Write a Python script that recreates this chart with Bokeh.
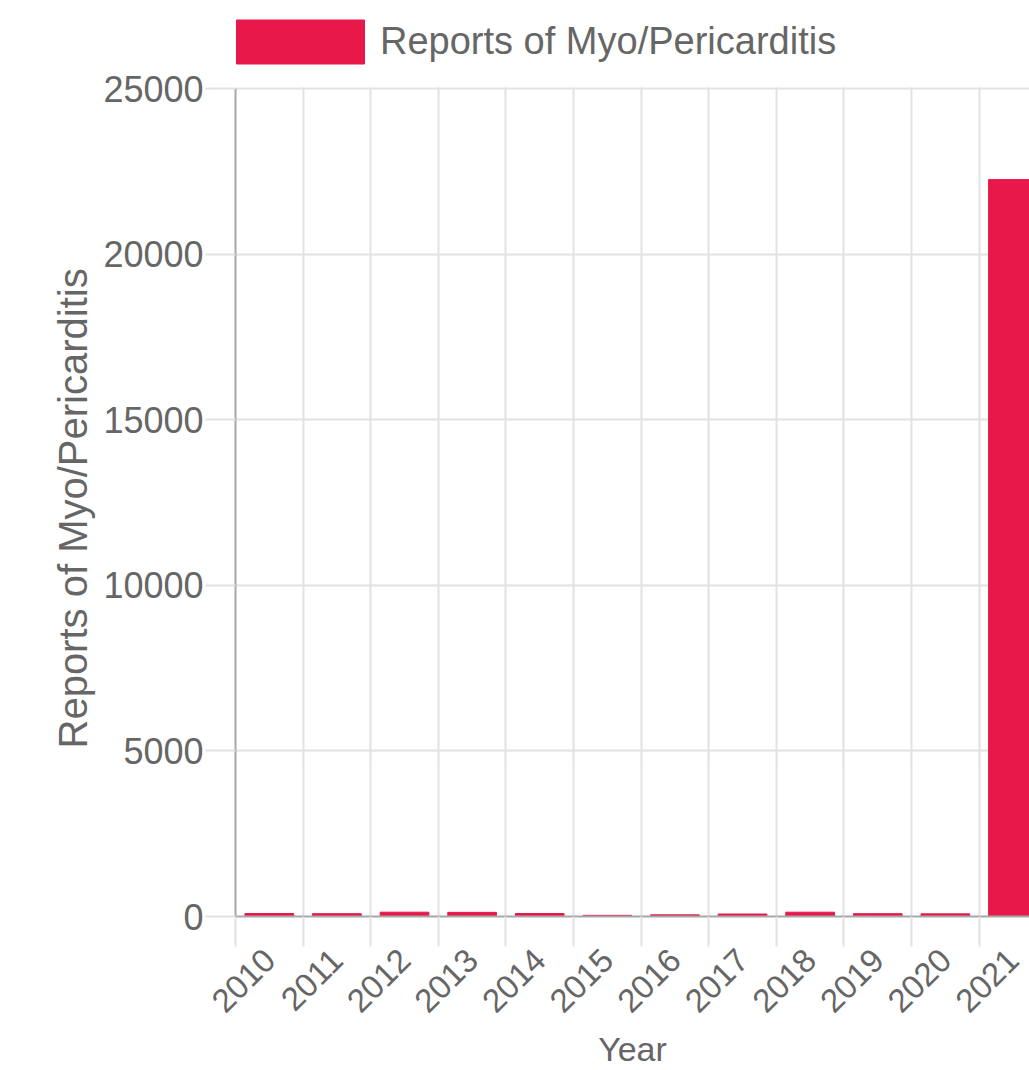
from bokeh.plotting import figure
from bokeh.models import (Range1d, FixedTicker, Legend, LegendItem, ColumnDataSource,
                          BoxAnnotation, Title)
from bokeh.embed import file_html
from bokeh.resources import INLINE
import math

years = ["2010", "2011", "2012", "2013", "2014", "2015", "2016",
         "2017", "2018", "2019", "2020", "2021"]
reports = [90, 85, 130, 125, 90, 35, 50, 75, 130, 85, 80, 22250]
y_ticks = [0, 5000, 10000, 15000, 20000, 25000]
series_name = "Reports of Myo/Pericarditis"

BAR = "#e8184a"
TXT = "#666666"
GRID = "#e2e2e2"
AXIS = "#a8a8a8"
FONT = "Liberation Sans"

idx = list(range(len(years)))
src = ColumnDataSource(dict(x=idx, y=reports))

y_max = y_ticks[-1]
# extra head room above the axis top holds the legend (88px of 916px)
y_end = y_max * 916 / 828

p = figure(width=1029, height=1070, output_backend="svg", toolbar_location=None,
           x_range=Range1d(-0.5, 11.245), y_range=Range1d(0, y_end),
           min_border_left=235, min_border_right=0, min_border_top=0,
           min_border_bottom=154)
p.outline_line_color = None
p.background_fill_color = "white"

r = p.vbar(x="x", top="y", width=0.72, bottom=0, source=src,
           fill_color=BAR, line_color=BAR)

# x axis
p.xaxis.ticker = FixedTicker(ticks=idx, minor_ticks=[i - 0.5 for i in range(len(years) + 1)])
p.xaxis.major_label_overrides = {i: y for i, y in zip(idx, years)}
p.xaxis.major_label_orientation = math.pi / 4
p.xaxis.major_tick_line_color = None
p.xaxis.minor_tick_in = 0
p.xaxis.minor_tick_out = 30
p.xaxis.minor_tick_line_color = GRID
p.xaxis.minor_tick_line_width = 2
p.xaxis.axis_line_color = AXIS
p.xaxis.axis_line_width = 2
p.xaxis.major_label_text_font = FONT
p.xaxis.major_label_text_font_size = "33px"
p.xaxis.major_label_text_color = TXT
p.xaxis.major_label_standoff = 8
p.xaxis.axis_label = "Year"
p.xaxis.axis_label_text_font = FONT
p.xaxis.axis_label_text_font_size = "34px"
p.xaxis.axis_label_text_font_style = "normal"
p.xaxis.axis_label_text_color = TXT
p.xaxis.axis_label_standoff = 4

# y axis
p.yaxis.ticker = FixedTicker(ticks=y_ticks)
p.yaxis.bounds = (0, y_max)
p.yaxis.minor_tick_line_color = None
p.yaxis.major_tick_in = 0
p.yaxis.major_tick_out = 30
p.yaxis.major_tick_line_color = GRID
p.yaxis.major_tick_line_width = 2
p.yaxis.axis_line_color = AXIS
p.yaxis.axis_line_width = 2
p.yaxis.major_label_text_font = FONT
p.yaxis.major_label_text_font_size = "36px"
p.yaxis.major_label_text_color = TXT
p.yaxis.major_label_standoff = 2

# y axis title, placed along the value axis (not the whole frame)
p.add_layout(Title(text=series_name, align="left", offset=168, standoff=11,
                   text_font=FONT, text_font_size="40px", text_font_style="normal",
                   text_color=TXT), "left")

# grids
p.xgrid.grid_line_color = None
p.xgrid.minor_grid_line_color = GRID
p.xgrid.minor_grid_line_width = 2
p.ygrid.grid_line_color = GRID
p.ygrid.grid_line_width = 2

# blank out the grid above the top of the value axis (legend area)
p.add_layout(BoxAnnotation(bottom=y_max + y_max * 0.0015, fill_color="white",
                           fill_alpha=1.0, line_color=None))

legend = Legend(items=[LegendItem(label=series_name, renderers=[r])],
                location=(-15, 916 - 69), orientation="horizontal",
                glyph_width=160, glyph_height=55, label_height=55,
                label_standoff=0, padding=0, margin=0, spacing=0,
                border_line_color=None, background_fill_alpha=0,
                label_text_font=FONT, label_text_font_size="38px",
                label_text_color=TXT)
p.add_layout(legend, "center")

open("out.html", "w").write(file_html(p, INLINE))
